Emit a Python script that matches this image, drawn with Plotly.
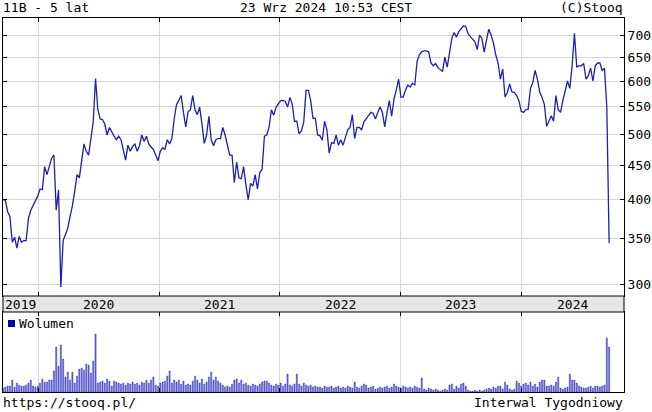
import plotly.graph_objects as go
import pandas as pd
import math

# ---- data (weekly closes) ----
price_seg1 = [400, 400, 384, 378, 346, 352, 339, 353, 346, 348,
              348, 375, 386, 392, 399, 405, 415, 414, 448, 436,
              448, 461, 466, 386, 414, 297, 348, 356, 363, 378,
              392, 412, 436, 431, 455, 484, 472, 466, 493, 522,
              605, 544, 527, 526, 518, 499, 512, 503, 497, 491,
              497, 491, 475, 458, 482, 472, 480, 484, 472, 481,
              499, 488, 497, 484, 479, 475, 466, 457, 472, 478,
              475, 491, 484, 493, 527, 554, 561, 571, 539, 513,
              540, 544, 571, 544, 535, 549, 518, 485, 499, 532,
              491, 481, 491, 493, 493]
price_seg2 = [512, 499, 481, 466, 466, 424, 455, 431, 430, 448,
              421, 400, 423, 419, 436, 415, 439, 444, 497, 499,
              512, 544, 534, 548, 555, 561, 561, 560, 549, 567,
              555, 523, 523, 501, 506, 522, 581, 581, 561, 528,
              528, 499, 498, 490, 523, 508, 469, 486, 485, 499,
              482, 491, 482, 497, 508, 512, 535, 493, 512, 512,
              508, 522, 528, 535, 539, 537, 527, 539, 549, 539,
              513, 539, 561, 532, 564, 582, 604, 568, 568, 582,
              592, 588, 595, 592, 642, 656]
price_seg3 = [663, 665, 665, 663, 638, 632, 637, 628, 624, 620,
              651, 629, 660, 694, 708, 697, 710, 716, 724, 723,
              705, 698, 692, 686, 668, 702, 694, 662, 690, 716,
              702, 683, 656, 638, 604, 625, 568, 577, 594, 578,
              577, 571, 561, 541, 539, 544, 545, 585, 597, 622,
              604, 578, 567, 554, 514, 523, 533, 523, 571, 544,
              539, 561, 578, 600, 585, 632, 706, 630, 632, 632,
              637, 604, 611, 627, 600, 632, 638, 638, 622, 627,
              549, 345]

# weekly volume (relative units)
vol_seg1 = [4, 5, 6, 6, 12, 5, 9, 7, 6, 6,
            7, 9, 12, 6, 5, 6, 9, 13, 10, 10,
            12, 12, 21, 45, 26, 47, 33, 15, 20, 12,
            20, 9, 16, 23, 24, 22, 28, 27, 19, 31,
            58, 9, 10, 11, 9, 13, 11, 6, 11, 10,
            9, 8, 9, 7, 9, 8, 10, 8, 9, 7,
            10, 9, 12, 9, 12, 15, 7, 6, 9, 10,
            11, 16, 21, 9, 12, 10, 12, 8, 11, 7,
            8, 7, 11, 16, 12, 9, 13, 8, 10, 15,
            20, 12, 15, 11, 9]
vol_seg2 = [7, 5, 6, 5, 8, 12, 13, 9, 12, 8,
            9, 7, 6, 8, 7, 6, 8, 10, 11, 11,
            9, 7, 6, 8, 7, 9, 6, 8, 18, 7,
            6, 8, 18, 8, 6, 9, 7, 6, 7, 5,
            6, 5, 5, 4, 6, 5, 5, 6, 4, 5,
            6, 4, 5, 4, 6, 5, 4, 10, 5, 4,
            6, 8, 7, 4, 5, 6, 3, 4, 5, 4,
            5, 6, 4, 5, 8, 6, 5, 4, 6, 5,
            4, 5, 4, 6, 5, 4]
vol_seg3 = [14, 3, 2, 4, 3, 2, 3, 2, 1, 2,
            3, 2, 7, 8, 3, 6, 4, 8, 9, 6,
            2, 1, 1, 2, 1, 2, 1, 2, 3, 4,
            3, 5, 4, 6, 6, 3, 10, 7, 3, 2,
            3, 11, 9, 6, 8, 9, 7, 10, 6, 8,
            5, 10, 12, 12, 6, 6, 7, 6, 10, 15,
            4, 3, 4, 5, 18, 12, 12, 9, 6, 5,
            4, 4, 5, 6, 4, 6, 6, 5, 6, 7,
            54, 45]

close = price_seg1 + price_seg2 + price_seg3
volume = vol_seg1 + vol_seg2 + vol_seg3
n = min(len(close), len(volume))
close = close[:n]
volume = volume[:n]
dates = pd.date_range(end="2024-09-23", periods=n, freq="7D")

y_ticks = [300, 350, 400, 450, 500, 550, 600, 650, 700]
year_lines = ["2020-01-01", "2021-01-01", "2022-01-01", "2023-01-01", "2024-01-01"]
year_labels = ["2019", "2020", "2021", "2022", "2023", "2024"]
year_label_pos = ["2019-11-08", "2020-07-02", "2021-07-02", "2022-07-02", "2023-07-02", "2024-06-04"]

# ---- layout geometry ----
W, H = 652, 412
XL, XR = 3, 624
MAIN_T, MAIN_B = 18, 296
VOL_T, VOL_B = 312, 392
px = lambda v: v / W
py = lambda v: 1 - v / H
x_range = ["2019-09-16", "2024-11-07"]
FONT = "DejaVu Sans Mono"
GRID = "#d6d6d6"

fig = go.Figure()
fig.add_trace(go.Scatter(x=dates, y=close, mode="lines",
                         line=dict(color="#1f1fb0", width=1.3),
                         xaxis="x", yaxis="y", showlegend=False, hoverinfo="skip"))
fig.add_trace(go.Bar(x=dates, y=volume, width=3.6 * 86400000,
                     marker=dict(color="#6565e0", line=dict(color="#2a2ab8", width=0.4)),
                     xaxis="x2", yaxis="y2", showlegend=False, hoverinfo="skip"))

axis_common = dict(type="date", range=x_range, showticklabels=False,
                   tickmode="array", tickvals=year_lines,
                   showgrid=True, gridcolor=GRID, gridwidth=1,
                   ticks="inside", ticklen=4, tickcolor="#000",
                   showline=True, linecolor="#000", linewidth=1, mirror="ticks",
                   zeroline=False)

fig.update_layout(
    width=W, height=H,
    margin=dict(l=0, r=0, t=0, b=0),
    paper_bgcolor="white", plot_bgcolor="white",
    font=dict(family=FONT, size=13, color="#000"),
    bargap=0,
    hovermode=False,
    xaxis=dict(domain=[px(XL), px(XR)], anchor="y", **axis_common),
    yaxis=dict(domain=[py(MAIN_B), py(MAIN_T)], anchor="x", type="log",
               range=[math.log10(288), math.log10(744)],
               side="right", tickmode="array", tickvals=y_ticks,
               ticktext=[str(v) for v in y_ticks],
               tickfont=dict(family=FONT, size=13, color="#000"),
               ticks="inside", ticklen=4, tickcolor="#000",
               showgrid=True, gridcolor=GRID, gridwidth=1,
               showline=True, linecolor="#000", linewidth=1, mirror="ticks",
               zeroline=False),
    xaxis2=dict(domain=[px(XL), px(XR)], anchor="y2", matches="x", **axis_common),
    yaxis2=dict(domain=[py(VOL_B), py(VOL_T)], anchor="x2", range=[0, 80],
                showticklabels=False, showgrid=False, ticks="",
                showline=True, linecolor="#000", linewidth=1, mirror=True,
                zeroline=False),
)

# year band between the panels
fig.add_shape(type="rect", xref="paper", yref="paper",
              x0=px(XL), x1=px(XR), y0=py(VOL_T), y1=py(MAIN_B),
              fillcolor="#e6e6e6", line=dict(color="#000", width=1), layer="above")
for lab, pos in zip(year_labels, year_label_pos):
    fig.add_annotation(x=pos, xref="x", y=py((MAIN_B + VOL_T) / 2), yref="paper",
                       text=lab, showarrow=False, xanchor="center", yanchor="middle",
                       font=dict(family=FONT, size=13, color="#000"))

# volume legend
fig.add_shape(type="rect", xref="paper", yref="paper",
              x0=px(8), x1=px(15), y0=py(327), y1=py(320),
              fillcolor="#0000b0", line=dict(color="#0000b0", width=0))
fig.add_annotation(x=px(17), y=py(323.5), xref="paper", yref="paper",
                   text="Wolumen", showarrow=False, xanchor="left", yanchor="middle",
                   font=dict(family=FONT, size=13, color="#000"))

# header and footer texts
fig.add_annotation(x=px(1), y=py(8), xref="paper", yref="paper", text="11B - 5 lat",
                   showarrow=False, xanchor="left", yanchor="middle")
fig.add_annotation(x=0.5, y=py(8), xref="paper", yref="paper", text="23 Wrz 2024 10:53 CEST",
                   showarrow=False, xanchor="center", yanchor="middle")
fig.add_annotation(x=px(625), y=py(8), xref="paper", yref="paper", text="(C)Stooq",
                   showarrow=False, xanchor="right", yanchor="middle")
fig.add_annotation(x=px(1), y=py(402), xref="paper", yref="paper", text="https://stooq.pl/",
                   showarrow=False, xanchor="left", yanchor="middle")
fig.add_annotation(x=px(625), y=py(402), xref="paper", yref="paper", text="Interwal Tygodniowy",
                   showarrow=False, xanchor="right", yanchor="middle")

fig.write_html("out.html",
               config={"displayModeBar": False, "staticPlot": True},
               post_script="document.body.style.margin='0';document.body.style.overflow='hidden';")
